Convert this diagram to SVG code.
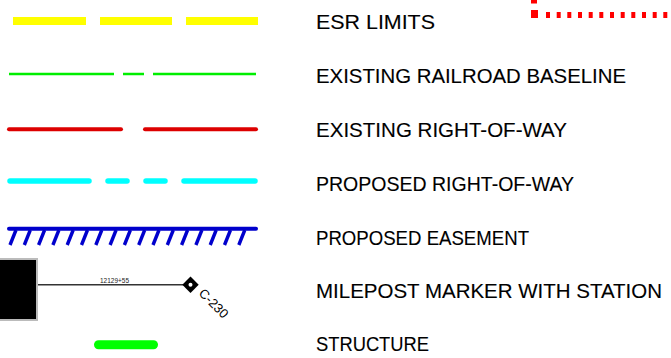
<svg xmlns="http://www.w3.org/2000/svg" width="671" height="358" viewBox="0 0 671 358">
<style>
.lbl{font-family:"Liberation Sans",Arial,sans-serif;font-size:21px;fill:#000;stroke:#000;stroke-width:0.12}
.hatch{stroke:#0000cc;stroke-width:3.4;stroke-linecap:butt}
.dot{fill:#ff0000}
</style>
<rect width="671" height="358" fill="#fff"/>
<g id="esr-corner">
<rect class="dot" x="531" y="0" width="6" height="3.5"/>
<rect class="dot" x="531" y="10" width="7" height="8"/>
<rect class="dot" x="546" y="12" width="4" height="6"/>
<rect class="dot" x="556.7" y="12" width="4" height="6"/>
<rect class="dot" x="567.3" y="12" width="4" height="6"/>
<rect class="dot" x="578" y="12" width="4" height="6"/>
<rect class="dot" x="588.7" y="12" width="4" height="6"/>
<rect class="dot" x="599.3" y="12" width="4" height="6"/>
<rect class="dot" x="610" y="12" width="4" height="6"/>
<rect class="dot" x="620.7" y="12" width="4" height="6"/>
<rect class="dot" x="631.3" y="12" width="4" height="6"/>
<rect class="dot" x="642" y="12" width="4" height="6"/>
<rect class="dot" x="652.7" y="12" width="4" height="6"/>
<rect class="dot" x="663.3" y="12" width="4" height="6"/>
</g>
<g id="esr-limits">
<rect x="13" y="17" width="73" height="8" fill="#ffff00"/>
<rect x="100" y="17" width="72" height="8" fill="#ffff00"/>
<rect x="186" y="17" width="72" height="8" fill="#ffff00"/>
<text class="lbl" x="316" y="28.5" textLength="119" lengthAdjust="spacingAndGlyphs">ESR LIMITS</text>
</g>
<g id="railroad-baseline">
<g stroke="#00ee00" stroke-width="2.5" fill="none">
<line x1="9" y1="74" x2="114" y2="74"/>
<line x1="123" y1="74" x2="144" y2="74"/>
<line x1="153" y1="74" x2="256" y2="74"/>
</g>
<text class="lbl" x="316" y="82.5" textLength="310" lengthAdjust="spacingAndGlyphs">EXISTING RAILROAD BASELINE</text>
</g>
<g id="existing-row">
<g stroke="#dd0000" stroke-width="4" stroke-linecap="round" fill="none">
<line x1="9" y1="129.3" x2="121" y2="129.3"/>
<line x1="145" y1="129.3" x2="256" y2="129.3"/>
</g>
<text class="lbl" x="316" y="136.5" textLength="251" lengthAdjust="spacingAndGlyphs">EXISTING RIGHT-OF-WAY</text>
</g>
<g id="proposed-row">
<g stroke="#00ffff" stroke-width="5.5" stroke-linecap="round" fill="none">
<line x1="10" y1="181" x2="89" y2="181"/>
<line x1="108" y1="181" x2="127" y2="181"/>
<line x1="146" y1="181" x2="165" y2="181"/>
<line x1="184" y1="181" x2="255" y2="181"/>
</g>
<text class="lbl" x="316" y="190.5" textLength="258" lengthAdjust="spacingAndGlyphs">PROPOSED RIGHT-OF-WAY</text>
</g>
<g id="proposed-easement">
<line x1="9" y1="228.7" x2="256" y2="228.7" stroke="#0000cc" stroke-width="4" stroke-linecap="round"/>
<g class="hatch">
<line x1="10" y1="245" x2="16" y2="230"/>
<line x1="24.3" y1="245" x2="30.3" y2="230"/>
<line x1="38.6" y1="245" x2="44.6" y2="230"/>
<line x1="52.9" y1="245" x2="58.9" y2="230"/>
<line x1="67.2" y1="245" x2="73.2" y2="230"/>
<line x1="81.5" y1="245" x2="87.5" y2="230"/>
<line x1="95.8" y1="245" x2="101.8" y2="230"/>
<line x1="110.1" y1="245" x2="116.1" y2="230"/>
<line x1="124.4" y1="245" x2="130.4" y2="230"/>
<line x1="138.7" y1="245" x2="144.7" y2="230"/>
<line x1="153" y1="245" x2="159" y2="230"/>
<line x1="167.3" y1="245" x2="173.3" y2="230"/>
<line x1="181.6" y1="245" x2="187.6" y2="230"/>
<line x1="195.9" y1="245" x2="201.9" y2="230"/>
<line x1="210.2" y1="245" x2="216.2" y2="230"/>
<line x1="224.5" y1="245" x2="230.5" y2="230"/>
<line x1="238.8" y1="245" x2="244.8" y2="230"/>
</g>
<text class="lbl" x="316" y="244.5" textLength="213" lengthAdjust="spacingAndGlyphs">PROPOSED EASEMENT</text>
</g>
<g id="milepost-marker">
<rect x="-2" y="259" width="39" height="61" fill="#000" stroke="#bbbbbb" stroke-width="2"/>
<line x1="38" y1="284.7" x2="186" y2="284.7" stroke="#333" stroke-width="1.5"/>
<text x="100" y="282.5" font-family="Liberation Sans, Arial, sans-serif" font-size="7" fill="#222" textLength="29" lengthAdjust="spacingAndGlyphs">12129+55</text>
<polygon points="190.5,276.5 198.7,284.7 190.5,292.9 182.3,284.7" fill="#000"/>
<circle cx="190.5" cy="284.7" r="2" fill="#fff"/>
<text x="198" y="294" font-family="Liberation Sans, Arial, sans-serif" font-size="13" fill="#000" transform="rotate(45 198 294)">C-230</text>
<text class="lbl" x="316" y="297.5" textLength="346" lengthAdjust="spacingAndGlyphs">MILEPOST MARKER WITH STATION</text>
</g>
<g id="structure">
<line x1="98.5" y1="344.7" x2="153.5" y2="344.7" stroke="#00ff00" stroke-width="9" stroke-linecap="round"/>
<text class="lbl" x="316" y="350.5" textLength="113" lengthAdjust="spacingAndGlyphs">STRUCTURE</text>
</g>
</svg>
